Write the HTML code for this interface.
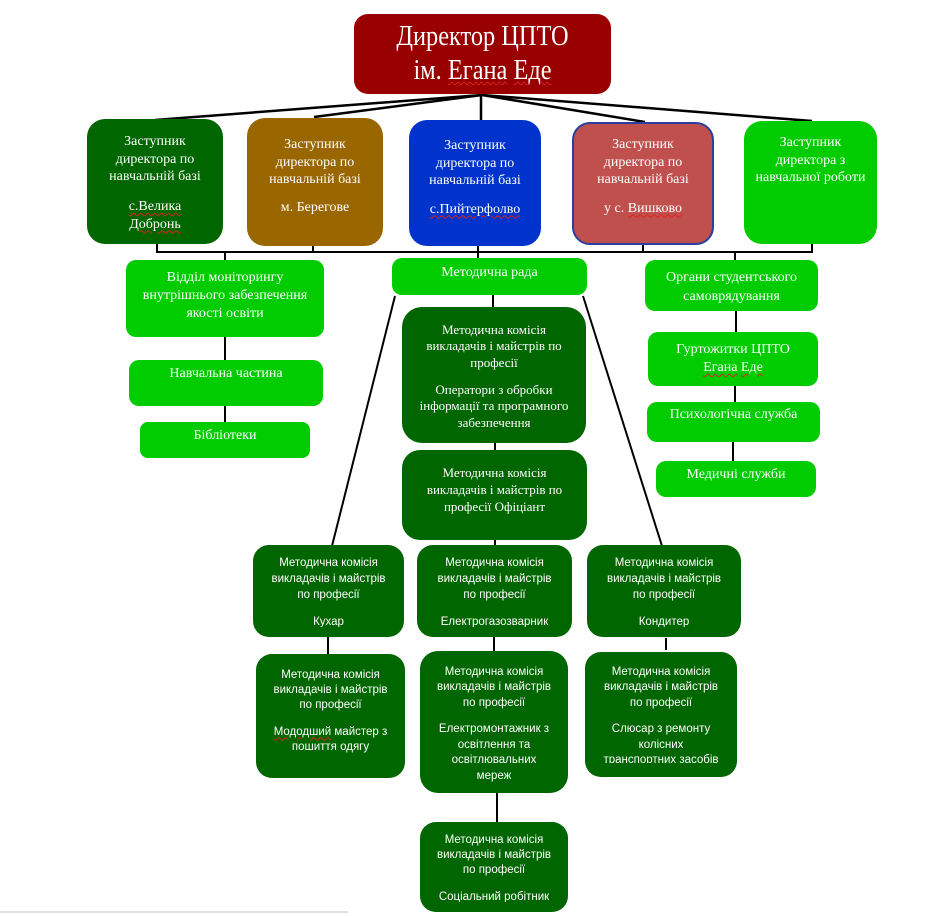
<!DOCTYPE html>
<html>
<head>
<meta charset="utf-8">
<style>
  html, body { margin:0; padding:0; }
  body { width:952px; height:916px; position:relative; background:#fff; overflow:hidden; }
  .b { position:absolute; box-sizing:border-box; color:#fff; text-align:center; }
  .serif { font-family:"Liberation Serif","Noto Serif CJK SC",serif; }
  .sans { font-family:"Liberation Sans","Noto Sans CJK SC",sans-serif; }
  .b p { margin:0; }
  .clip { overflow:hidden; }
  .sq { text-decoration: underline wavy #d22; text-decoration-thickness:1px; text-underline-offset:2px; }
  svg { position:absolute; left:0; top:0; }
  .dep { border-radius:18px; font-size:14px; line-height:17.5px; }
  .l3 { background:#00cc00; border-radius:10px; font-size:14px; line-height:18px; }
  .cs { background:#006600; border-radius:16px; font-size:13px; line-height:16.5px; }
  .cn { background:#006600; border-radius:16px; font-size:11.5px; line-height:15.5px; }
</style>
</head>
<body>

<svg width="952" height="916" viewBox="0 0 952 916">
  <g stroke="#000" stroke-width="2.5" fill="none" stroke-linecap="butt">
    <line x1="482" y1="95" x2="155" y2="120"/>
    <line x1="482" y1="95" x2="314" y2="117"/>
    <line x1="481" y1="95" x2="481" y2="121"/>
    <line x1="482" y1="95" x2="645" y2="122"/>
    <line x1="482" y1="95" x2="812" y2="121"/>
  </g>
  <g stroke="#000" stroke-width="2" fill="none">
    <line x1="157" y1="252" x2="812" y2="252"/>
    <line x1="157" y1="243" x2="157" y2="253"/>
    <line x1="313" y1="245" x2="313" y2="253"/>
    <line x1="478" y1="245" x2="478" y2="259"/>
    <line x1="643" y1="244" x2="643" y2="253"/>
    <line x1="812" y1="244" x2="812" y2="253"/>
    <line x1="225" y1="252" x2="225" y2="261"/>
    <line x1="735" y1="252" x2="735" y2="261"/>
    <line x1="225" y1="336" x2="225" y2="361"/>
    <line x1="225" y1="405" x2="225" y2="423"/>
    <line x1="493" y1="294" x2="493" y2="308"/>
    <line x1="495" y1="442" x2="495" y2="451"/>
    <line x1="495" y1="539" x2="495" y2="546"/>
    <line x1="395" y1="296" x2="332" y2="546"/>
    <line x1="583" y1="296" x2="662" y2="546"/>
    <line x1="328" y1="636" x2="328" y2="655"/>
    <line x1="494" y1="636" x2="494" y2="652"/>
    <line x1="666" y1="638" x2="666" y2="650"/>
    <line x1="497" y1="793" x2="497" y2="823"/>
    <line x1="736" y1="310" x2="736" y2="333"/>
    <line x1="735" y1="385" x2="735" y2="403"/>
    <line x1="733" y1="441" x2="733" y2="462"/>
  </g>
  <line x1="0" y1="912" x2="348" y2="912" stroke="#e0e0e0" stroke-width="2"/>
</svg>

<div class="b serif" style="left:354px;top:14px;width:257px;height:80px;background:#990000;border-radius:14px;font-size:29px;line-height:34px;padding-top:5px;">
  <div style="transform:scaleX(0.84);transform-origin:center;white-space:nowrap;">Директор ЦПТО<br>ім. <span class="sq">Егана</span> <span class="sq">Еде</span></div>
</div>

<div class="b serif dep" style="left:87px;top:119px;width:136px;height:125px;background:#006600;padding-top:14px;">
  <p>Заступник<br>директора по<br>навчальній базі</p>
  <p style="margin-top:12.5px;"><span class="sq">с.Велика</span><br><span class="sq">Добронь</span></p>
</div>
<div class="b serif dep" style="left:247px;top:118px;width:136px;height:128px;background:#996600;padding-top:18px;">
  <p>Заступник<br>директора по<br>навчальній базі</p>
  <p style="margin-top:10.5px;">м. Берегове</p>
</div>
<div class="b serif dep" style="left:409px;top:120px;width:132px;height:126px;background:#0033cc;padding-top:17px;">
  <p>Заступник<br>директора по<br>навчальній базі</p>
  <p style="margin-top:11px;"><span class="sq">с.Пийтерфолво</span></p>
</div>
<div class="b serif dep" style="left:572px;top:122px;width:142px;height:123px;background:#c0504d;border:2px solid #2a3f9e;padding-top:12px;">
  <p>Заступник<br>директора по<br>навчальній базі</p>
  <p style="margin-top:11px;">у с. <span class="sq">Вишково</span></p>
</div>
<div class="b serif dep" style="left:744px;top:121px;width:133px;height:123px;background:#00cc00;padding-top:13px;">
  <p>Заступник<br>директора з<br>навчальної роботи</p>
</div>

<div class="b serif l3" style="left:126px;top:260px;width:198px;height:77px;padding-top:9px;">
  Відділ моніторингу<br>внутрішнього забезпечення<br>якості освіти
</div>
<div class="b serif l3" style="left:129px;top:360px;width:194px;height:46px;padding-top:5px;">Навчальна частина</div>
<div class="b serif l3" style="left:140px;top:422px;width:170px;height:36px;padding-top:5px;border-radius:8px;">Бібліотеки</div>

<div class="b serif l3" style="left:392px;top:258px;width:195px;height:37px;padding-top:6px;">Методична рада</div>
<div class="b serif cs" style="left:402px;top:307px;width:184px;height:136px;padding-top:14.5px;border-radius:20px;">
  <p>Методична комісія<br>викладачів і майстрів по<br>професії</p>
  <p style="margin-top:10.5px;">Оператори з обробки<br>інформації та програмного<br>забезпечення</p>
</div>
<div class="b serif cs" style="left:402px;top:450px;width:185px;height:90px;padding-top:13.5px;border-radius:18px;line-height:17px;">
  <p>Методична комісія<br>викладачів і майстрів по<br>професії Офіціант</p>
</div>

<div class="b sans cn" style="left:253px;top:545px;width:151px;height:92px;">
  <div class="clip" style="height:82px;padding-top:10px;box-sizing:border-box;line-height:16px;">
    <p>Методична комісія<br>викладачів і майстрів<br>по професії</p>
    <p style="margin-top:11px;">Кухар</p>
  </div>
</div>
<div class="b sans cn" style="left:417px;top:545px;width:155px;height:92px;">
  <div class="clip" style="height:82px;padding-top:10px;box-sizing:border-box;line-height:16px;">
    <p>Методична комісія<br>викладачів і майстрів<br>по професії</p>
    <p style="margin-top:11px;">Електрогазозварник</p>
  </div>
</div>
<div class="b sans cn" style="left:587px;top:545px;width:154px;height:92px;">
  <div class="clip" style="height:82px;padding-top:10px;box-sizing:border-box;line-height:16px;">
    <p>Методична комісія<br>викладачів і майстрів<br>по професії</p>
    <p style="margin-top:11px;">Кондитер</p>
  </div>
</div>

<div class="b sans cn" style="left:256px;top:654px;width:149px;height:124px;padding-top:13.5px;line-height:15px;">
  <p>Методична комісія<br>викладачів і майстрів<br>по професії</p>
  <p style="margin-top:12px;"><span class="sq">Мододший</span> майстер з<br>пошиття одягу</p>
</div>
<div class="b sans cn" style="left:420px;top:651px;width:148px;height:142px;padding-top:13.5px;line-height:15.5px;border-radius:18px;">
  <p>Методична комісія<br>викладачів і майстрів<br>по професії</p>
  <p style="margin-top:11px;">Електромонтажник з<br>освітлення та<br>освітлювальних<br>мереж</p>
</div>
<div class="b sans cn" style="left:585px;top:652px;width:152px;height:125px;">
  <div class="clip" style="height:111px;padding-top:12.5px;box-sizing:border-box;line-height:15.5px;">
    <p>Методична комісія<br>викладачів і майстрів<br>по професії</p>
    <p style="margin-top:11px;">Слюсар з ремонту<br>колісних<br>транспортних засобів</p>
  </div>
</div>

<div class="b sans cn" style="left:420px;top:822px;width:148px;height:90px;">
  <div class="clip" style="height:80px;padding-top:10.5px;box-sizing:border-box;line-height:15px;">
    <p>Методична комісія<br>викладачів і майстрів<br>по професії</p>
    <p style="margin-top:12px;">Соціальний робітник</p>
  </div>
</div>

<div class="b serif l3" style="left:645px;top:260px;width:173px;height:51px;padding-top:9px;line-height:18.5px;">Органи студентського<br>самоврядування</div>
<div class="b serif l3" style="left:648px;top:332px;width:170px;height:54px;padding-top:9px;">Гуртожитки ЦПТО<br><span class="sq">Егана</span> <span class="sq">Еде</span></div>
<div class="b serif l3" style="left:647px;top:402px;width:173px;height:40px;padding-top:4px;">Психологічна служба</div>
<div class="b serif l3" style="left:656px;top:461px;width:160px;height:36px;padding-top:5px;">Медичні служби</div>

</body>
</html>
